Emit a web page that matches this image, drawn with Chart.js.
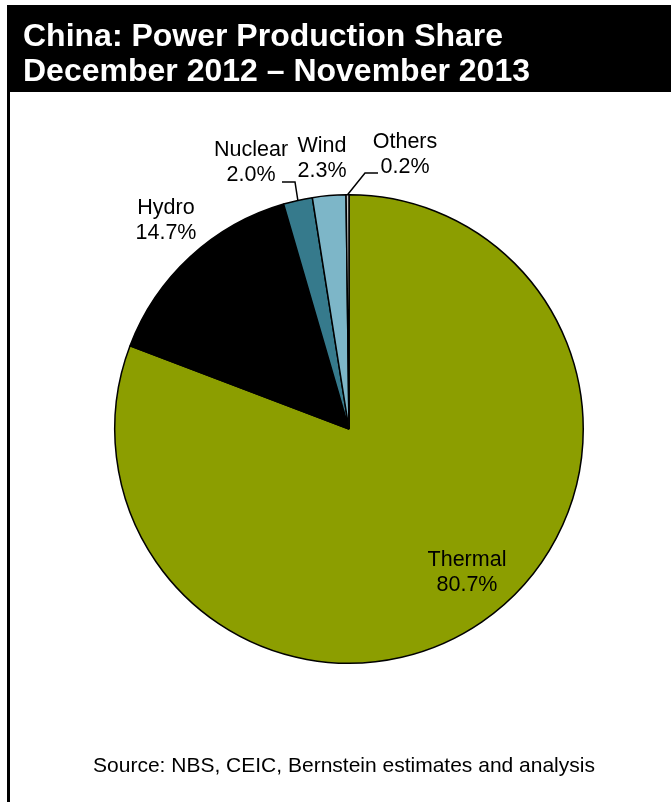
<!DOCTYPE html>
<html>
<head>
<meta charset="utf-8">
<script src="https://cdn.jsdelivr.net/npm/chart.js@4/dist/chart.umd.min.js"></script>
<style>
  html, body { margin: 0; padding: 0; background: #fff; }
  #wrap { position: relative; width: 671px; height: 802px; }
</style>
</head>
<body>
<div id="wrap"><canvas id="powerChart" width="671" height="802"></canvas></div>
<script>
// data
const sources = ['Thermal', 'Hydro', 'Nuclear', 'Wind', 'Others'];
const shares = [80.7, 14.7, 2.0, 2.3, 0.2];
const colors = ['#8C9E00', '#000000', '#367A8C', '#7DB6C8', '#C8C8C8'];

const titleLines = ['China: Power Production Share', 'December 2012 \u2013 November 2013'];
const sourceNote = 'Source: NBS, CEIC, Bernstein estimates and analysis';

// label placement (offset of label centre from pie centre, first line baseline)
// leader: null, or elbow offset from pie centre
const labelLayout = {
    Thermal: { dx: 118, dy: 137, leader: null },
    Hydro:   { dx: -183, dy: -215, leader: null },
    Nuclear: { dx: -98, dy: -273, leader: [[-67, -247], [-54, -247]] },
    Wind:    { dx: -27, dy: -277, leader: null },
    Others:  { dx: 56, dy: -281, leader: [[29, -256], [16, -256]] }
};

const FONT = '"Liberation Sans", Arial, sans-serif';

// frame, title and source note
const framePlugin = {
    id: 'frame',
    beforeDraw(chart) {
        const ctx = chart.ctx;
        ctx.save();
        ctx.fillStyle = '#fff';
        ctx.fillRect(0, 0, chart.width, chart.height);
        ctx.fillStyle = '#000';
        ctx.fillRect(7, 5, chart.width - 7, 87);
        ctx.fillRect(7, 92, 3, chart.height - 92);
        ctx.fillStyle = '#fff';
        ctx.font = 'bold 32px ' + FONT;
        ctx.textBaseline = 'alphabetic';
        ctx.fillText(titleLines[0], 23, 46);
        ctx.fillText(titleLines[1], 23, 81);
        ctx.fillStyle = '#000';
        ctx.font = '21px ' + FONT;
        ctx.textAlign = 'center';
        ctx.fillText(sourceNote, 344, 772);
        ctx.restore();
    }
};

// data labels with leader lines
const labelPlugin = {
    id: 'sliceLabels',
    afterDatasetsDraw(chart) {
        const ctx = chart.ctx;
        const meta = chart.getDatasetMeta(0);
        ctx.save();
        ctx.font = '21.5px ' + FONT;
        ctx.textAlign = 'center';
        ctx.fillStyle = '#000';
        meta.data.forEach((arc, i) => {
            const name = sources[i];
            const lay = labelLayout[name];
            const cx = arc.x, cy = arc.y;
            ctx.fillText(name, cx + lay.dx, cy + lay.dy);
            ctx.fillText(shares[i].toFixed(1) + '%', cx + lay.dx, cy + lay.dy + 24.5);
            if (lay.leader) {
                const mid = (arc.startAngle + arc.endAngle) / 2;
                const ex = cx + Math.cos(mid) * arc.outerRadius;
                const ey = cy + Math.sin(mid) * arc.outerRadius;
                ctx.beginPath();
                ctx.moveTo(cx + lay.leader[0][0], cy + lay.leader[0][1]);
                ctx.lineTo(cx + lay.leader[1][0], cy + lay.leader[1][1]);
                ctx.lineTo(ex, ey);
                ctx.lineWidth = 1.5;
                ctx.strokeStyle = '#000';
                ctx.stroke();
            }
        });
        ctx.restore();
    }
};

new Chart(document.getElementById('powerChart'), {
    type: 'pie',
    data: {
        labels: sources,
        datasets: [{
            data: shares,
            backgroundColor: colors,
            borderColor: '#000',
            borderWidth: 1.5
        }]
    },
    options: {
        responsive: false,
        animation: false,
        layout: { padding: { left: 114, right: 87, top: 193, bottom: 137 } },
        plugins: {
            legend: { display: false },
            tooltip: { enabled: false }
        }
    },
    plugins: [framePlugin, labelPlugin]
});
</script>
</body>
</html>
